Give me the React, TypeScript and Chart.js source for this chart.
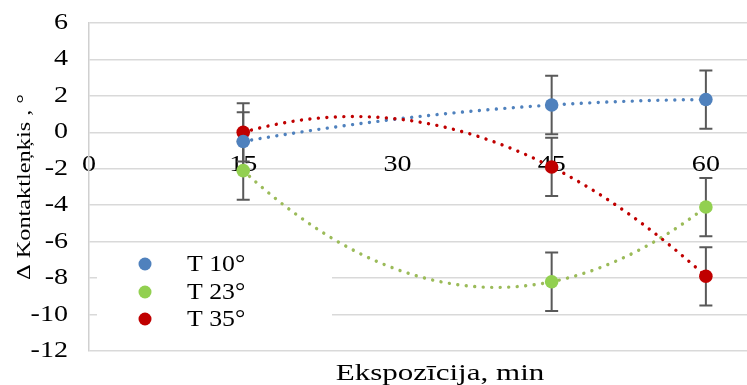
import React, { useEffect, useRef } from "react";
import { Chart, registerables } from "chart.js";

Chart.register(...registerables);

// ---- data ----
const exposureMin = [15, 45, 60];
const xTickValues = [0, 15, 30, 45, 60];
const seriesLabels = ["T 10°", "T 23°", "T 35°"];
const t10 = [-0.5, 1.5, 1.8];
const t23 = [-2.1, -8.2, -4.1];
const t35 = [0.0, -1.9, -7.9];
const t10Err = [1.6, 1.6, 1.6];
const t23Err = [1.6, 1.6, 1.6];
const t35Err = [1.6, 1.6, 1.6];
const yTitle = "Δ Kontaktleņķis , °";
const xTitle = "Ekspozīcija, min";

const markerColors = ["#4f81bd", "#92d050", "#c00000"];
const trendColors = ["#4f81bd", "#9bbb59", "#c00000"];
const FONT = "'Liberation Serif', 'Times New Roman', serif";

const seriesValues = [t10, t23, t35];
const seriesErrors = [t10Err, t23Err, t35Err];

// the original's text is drawn horizontally widened
function stretchFor(t: string): number {
  if (t === xTitle) return 1.35;
  if (t === yTitle) return 1.28;
  if (seriesLabels.includes(t)) return 1.12;
  return 1.22;
}

function quadFit(xs: number[], ys: number[]): number[] {
  const S = [0, 0, 0, 0, 0];
  const T = [0, 0, 0];
  for (let i = 0; i < xs.length; i++) {
    for (let k = 0; k < 5; k++) S[k] += Math.pow(xs[i], k);
    for (let k = 0; k < 3; k++) T[k] += ys[i] * Math.pow(xs[i], k);
  }
  const M = [0, 1, 2].map((r) => [S[r], S[r + 1], S[r + 2], T[r]]);
  for (let c = 0; c < 3; c++) {
    let p = c;
    for (let r = c + 1; r < 3; r++) if (Math.abs(M[r][c]) > Math.abs(M[p][c])) p = r;
    [M[c], M[p]] = [M[p], M[c]];
    for (let r = 0; r < 3; r++) {
      if (r === c) continue;
      const f = M[r][c] / M[c][c];
      for (let k = c; k < 4; k++) M[r][k] -= f * M[c][k];
    }
  }
  return [M[0][3] / M[0][0], M[1][3] / M[1][1], M[2][3] / M[2][2]];
}

const backgroundPlugin = {
  id: "bgTrendErr",
  afterLayout(chart: any) {
    const s = chart.scales.x2;
    if (s) {
      s.left += 22;
      s.right += 22;
    }
  },
  beforeDatasetsDraw(chart: any) {
    const { ctx, scales } = chart;
    const xs = scales.x;
    const ys = scales.y;
    // legend background box (hides gridlines as in the original)
    ctx.save();
    ctx.fillStyle = "#ffffff";
    ctx.fillRect(97, 244, 235, 99);
    ctx.restore();

    // polynomial (order 2) trendlines
    chart.data.datasets.forEach((ds: any, i: number) => {
      const px = ds.data.map((p: any) => p.x);
      const py = ds.data.map((p: any) => p.y);
      const c = quadFit(px, py);
      const p0 = xs.getPixelForValue(Math.min(...px));
      const p1 = xs.getPixelForValue(Math.max(...px));
      ctx.save();
      ctx.beginPath();
      for (let pp = p0; pp <= p1 + 0.01; pp += 1) {
        const v = xs.getValueForPixel(pp);
        const yv = c[0] + c[1] * v + c[2] * v * v;
        const yp = ys.getPixelForValue(yv);
        if (pp === p0) ctx.moveTo(pp, yp);
        else ctx.lineTo(pp, yp);
      }
      ctx.strokeStyle = trendColors[i];
      ctx.lineWidth = 3.4;
      ctx.lineCap = "round";
      ctx.setLineDash([0.01, 8.5]);
      ctx.stroke();
      ctx.restore();
    });

    // error bars
    chart.data.datasets.forEach((ds: any, i: number) => {
      const errs = seriesErrors[i];
      ds.data.forEach((p: any, j: number) => {
        const cx = xs.getPixelForValue(p.x);
        const yt = ys.getPixelForValue(p.y + errs[j]);
        const yb = ys.getPixelForValue(p.y - errs[j]);
        ctx.save();
        ctx.strokeStyle = "#595959";
        ctx.lineWidth = 2;
        ctx.beginPath();
        ctx.moveTo(cx, yt);
        ctx.lineTo(cx, yb);
        ctx.moveTo(cx - 6.5, yt);
        ctx.lineTo(cx + 6.5, yt);
        ctx.moveTo(cx - 6.5, yb);
        ctx.lineTo(cx + 6.5, yb);
        ctx.stroke();
        ctx.restore();
      });
    });
  },
  afterDraw(chart: any) {
    const { ctx } = chart;
    const rows = [264, 292, 319];
    chart.data.datasets.forEach((ds: any, i: number) => {
      ctx.save();
      ctx.fillStyle = ds.backgroundColor;
      ctx.beginPath();
      ctx.arc(145, rows[i], 6.5, 0, Math.PI * 2);
      ctx.fill();
      ctx.fillStyle = "#000";
      ctx.font = `23px ${FONT}`;
      ctx.textAlign = "left";
      ctx.textBaseline = "middle";
      ctx.fillText(ds.label, 187, rows[i] + 1);
      ctx.restore();
    });
  },
};

export default function App() {
  const ref = useRef<HTMLCanvasElement | null>(null);
  useEffect(() => {
    if (!ref.current) return;
    const c2d: any = ref.current.getContext("2d");
    const origFill = c2d.fillText.bind(c2d);
    c2d.fillText = function (text: string, x: number, y: number, maxWidth?: number) {
      const f = stretchFor(String(text));
      this.save();
      this.translate(x, y);
      this.scale(f, 1);
      if (maxWidth === undefined) origFill(text, 0, 0);
      else origFill(text, 0, 0, maxWidth / f);
      this.restore();
    };
    const datasets = seriesValues.map((vals, i) => ({
      label: seriesLabels[i],
      data: exposureMin.map((x, j) => ({ x, y: vals[j] })),
      backgroundColor: markerColors[i],
      borderColor: markerColors[i],
      pointRadius: 6.8,
      pointBorderWidth: 0,
      showLine: false,
    }));
    const noPad = (s: any) => {
      s.paddingLeft = 0;
      s.paddingRight = 0;
    };
    const chart = new Chart(ref.current, {
      type: "scatter",
      data: { datasets },
      plugins: [backgroundPlugin],
      options: {
        animation: false,
        responsive: true,
        maintainAspectRatio: false,
        layout: { autoPadding: false, padding: { top: 23, right: 0, left: 0, bottom: 0 } },
        plugins: { legend: { display: false }, tooltip: { enabled: false } },
        scales: {
          x: {
            type: "linear",
            position: { y: 0 } as any,
            min: 0,
            max: 64,
            z: 1,
            afterBuildTicks: (s: any) => {
              s.ticks = xTickValues.map((v) => ({ value: v }));
            },
            afterFit: (s: any) => {
              s.height = 0;
              noPad(s);
            },
            grid: { display: false },
            border: { display: false },
            ticks: {
              padding: 11,
              color: "#000",
              font: { family: FONT, size: 23 },
              maxRotation: 0,
              autoSkip: false,
            },
          },
          x2: {
            type: "linear",
            position: "bottom",
            min: 0,
            max: 64,
            afterFit: (s: any) => {
              s.height = 34;
              noPad(s);
            },
            grid: { display: false },
            border: { display: false },
            ticks: { display: false },
            title: {
              display: true,
              text: xTitle,
              color: "#000",
              font: { family: FONT, size: 23 },
              padding: { top: 0, bottom: -3 },
            },
          },
          y: {
            type: "linear",
            min: -12,
            max: 6,
            afterFit: (s: any) => {
              s.width = 89;
              s.paddingTop = 0;
              s.paddingBottom = 0;
            },
            grid: { color: "#d9d9d9", lineWidth: 1.5, drawTicks: false },
            border: { display: true, color: "#d0d0d0", width: 1.5 },
            ticks: {
              stepSize: 2,
              padding: 21,
              color: "#000",
              font: { family: FONT, size: 23 },
            },
            title: {
              display: true,
              text: yTitle,
              color: "#000",
              font: { family: FONT, size: 19 },
              padding: { top: 14, bottom: 0 },
            },
          },
        },
      },
    });
    return () => {
      chart.destroy();
      c2d.fillText = origFill;
    };
  }, []);
  return (
    <div style={{ position: "absolute", left: 0, top: 0, width: 747, height: 385 }}>
      <canvas ref={ref} />
    </div>
  );
}
